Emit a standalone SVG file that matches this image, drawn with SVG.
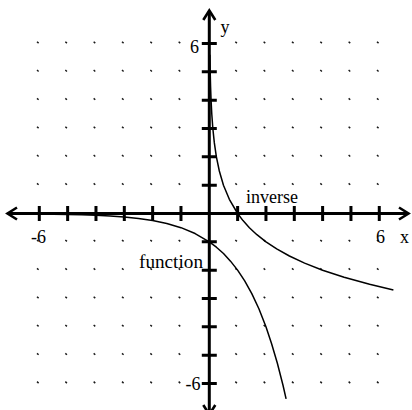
<svg xmlns="http://www.w3.org/2000/svg" width="412" height="410" viewBox="0 0 412 410">
<style>
.ax{stroke:#000;stroke-width:3;fill:none}
.arr{stroke:#000;stroke-width:2.6;fill:none;stroke-linejoin:miter}
.tk{stroke:#000;stroke-width:3}
.dot{stroke:#1a1a1a;stroke-width:1.5;fill:none}
.crv{stroke:#000;stroke-width:1.5;fill:none;stroke-linejoin:round}
text{font-family:"Liberation Serif","Times New Roman",serif;font-size:18px;fill:#000}
</style>
<defs>
<path id="row" class="dot" d="M37,-1.8l1.6,1.4m26.73,-1.4l1.6,1.4m26.73,-1.4l1.6,1.4m26.73,-1.4l1.6,1.4m26.73,-1.4l1.6,1.4m26.73,-1.4l1.6,1.4m55.06,-1.4l1.6,1.4m26.73,-1.4l1.6,1.4m26.73,-1.4l1.6,1.4m26.73,-1.4l1.6,1.4m26.73,-1.4l1.6,1.4m26.73,-1.4l1.6,1.4"/>
</defs>
<rect width="412" height="410" fill="#fff"/>
<g id="grid-dots">
<use href="#row" y="43.5"/>
<use href="#row" y="71.85"/>
<use href="#row" y="100.18"/>
<use href="#row" y="128.51"/>
<use href="#row" y="156.84"/>
<use href="#row" y="185.17"/>
<use href="#row" y="241.83"/>
<use href="#row" y="270.16"/>
<use href="#row" y="298.49"/>
<use href="#row" y="326.82"/>
<use href="#row" y="355.15"/>
<use href="#row" y="383.48"/>
</g>
<g id="axes">
<line class="ax" x1="8" y1="213.5" x2="408" y2="213.5"/>
<line class="ax" x1="209.3" y1="11" x2="209.3" y2="414"/>
<polyline class="arr" points="17,207.5 7.5,213.5 17,219.5"/>
<polyline class="arr" points="399,207.5 408.5,213.5 399,219.5"/>
<polyline class="arr" points="203.3,20 209.3,10.5 215.3,20"/>
<polyline class="arr" points="203.3,405 209.3,414.5 215.3,405"/>
<path class="tk" d="M39.3,206V221M67.65,206V221M95.98,206V221M124.31,206V221M152.64,206V221M180.97,206V221M237.63,206V221M265.96,206V221M294.29,206V221M322.62,206V221M350.95,206V221M379.28,206V221"/>
<path class="tk" d="M201.8,43.5H216.8M201.8,71.85H216.8M201.8,100.18H216.8M201.8,128.51H216.8M201.8,156.84H216.8M201.8,185.17H216.8M201.8,241.83H216.8M201.8,270.16H216.8M201.8,298.49H216.8M201.8,326.82H216.8M201.8,355.15H216.8M201.8,383.48H216.8"/>
</g>
<g id="connectors">
<polyline id="function-curve" class="crv" points="53.5,214.13 67.65,214.39 81.8,214.75 96,215.27 110.1,216 124.3,217.04 138.5,218.51 152.6,220.58 166.8,223.52 181,227.67 195.1,233.53 209.3,241.83 216.4,247.19 223.5,253.56 230.5,261.15 237.6,270.16 244.7,280.88 251.8,293.63 258.9,308.79 265.96,326.82 271.6,343.67 277.3,363.03 283,385.27 286.1,398.87"/>
<polyline id="inverse-curve" class="crv" points="209.88,54.85 210.19,71.85 210.55,86 211.07,100.2 211.8,114.3 212.84,128.5 214.31,142.7 216.38,156.8 219.32,171 223.47,185.2 229.33,199.3 237.63,213.5 243,220.6 249.4,227.7 256.9,234.7 266,241.8 276.7,248.9 289.4,256 304.6,263.1 322.6,270.2 344.1,277.2 369.6,284.3 393.4,290"/>
</g>
<g id="labels">
<text x="199" y="53.3" text-anchor="end">6</text>
<text x="200.5" y="390" text-anchor="end">-6</text>
<text x="31" y="243">-6</text>
<text x="376" y="242.5">6</text>
<text x="400" y="242.5">x</text>
<text x="220.5" y="32.5">y</text>
<text x="246" y="202.7" textLength="52" lengthAdjust="spacingAndGlyphs">inverse</text>
<text x="139" y="267.7" textLength="64" lengthAdjust="spacingAndGlyphs">function</text>
</g>
</svg>
